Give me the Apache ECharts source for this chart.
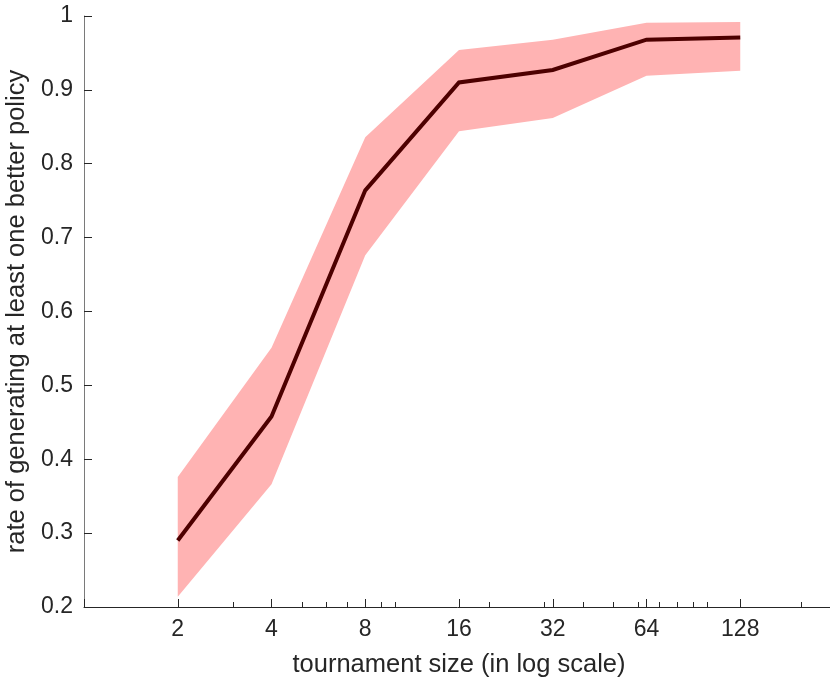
<!DOCTYPE html>
<html>
<head>
<meta charset="utf-8">
<script src="https://cdn.jsdelivr.net/npm/echarts@6/dist/echarts.min.js"></script>
<style>
  html, body { margin: 0; padding: 0; background: #fff; }
  #chart { width: 830px; height: 684px; }
</style>
</head>
<body>
<div id="chart"></div>
<script>
// Tournament sizes (log2-spaced)
const sizes = [2, 4, 8, 16, 32, 64, 128];
// Mean rate of producing at least one better policy
const meanRate = [0.290, 0.458, 0.764, 0.910, 0.927, 0.968, 0.971];
// Upper and lower edges of the shaded spread
const upperRate = [0.376, 0.551, 0.836, 0.954, 0.968, 0.991, 0.992];
const lowerRate = [0.214, 0.366, 0.676, 0.844, 0.862, 0.919, 0.926];
// Minor tick positions on the log axis
const minorTicks = [3, 5, 6, 7, 9, 10, 20, 30, 40, 50, 60, 70, 80, 90, 100, 200];

const FONT = '"Liberation Sans", Arial, Helvetica, sans-serif';
const TEXT = '#262626';

const chart = echarts.init(document.getElementById('chart'), null, { renderer: 'canvas' });

const meanData = sizes.map((s, i) => [s, meanRate[i]]);
// One row per size: x, lower, upper
const bandData = sizes.map((s, i) => [s, lowerRate[i], upperRate[i]]);

chart.setOption({
  animation: false,
  backgroundColor: '#ffffff',
  grid: { left: 84, width: 750, top: 16, height: 591, containLabel: false, outerBoundsMode: 'none' },
  xAxis: {
    type: 'log',
    logBase: 2,
    min: 1,
    max: 256,
    interval: 1,
    name: 'tournament size (in log scale)',
    nameLocation: 'middle',
    nameGap: 45,
    nameTextStyle: { fontFamily: FONT, fontSize: 25.5, color: TEXT },
    axisLine: { lineStyle: { color: TEXT, width: 1 } },
    axisTick: { inside: true, length: 8, lineStyle: { color: TEXT, width: 1 } },
    axisLabel: {
      margin: 11,
      fontFamily: FONT, fontSize: 23, color: TEXT,
      formatter: v => (v <= 1.5 || v >= 200) ? '' : String(Math.round(v))
    },
    splitLine: { show: false },
    minorTick: { show: false }
  },
  yAxis: {
    type: 'value',
    min: 0.2,
    max: 1,
    interval: 0.1,
    name: 'rate of generating at least one better policy',
    nameLocation: 'middle',
    nameGap: 37,
    nameTextStyle: { fontFamily: FONT, fontSize: 25.5, color: TEXT },
    axisLine: { show: true, lineStyle: { color: '#7a7a7a', width: 1 } },
    axisTick: { show: true, inside: true, length: 8, lineStyle: { color: TEXT, width: 1 } },
    axisLabel: {
      margin: 11,
      fontFamily: FONT, fontSize: 23, color: TEXT,
      formatter: v => Math.abs(v - 1) < 1e-9 ? '1' : v.toFixed(1)
    },
    splitLine: { show: false }
  },
  series: [
    {
      name: 'band',
      type: 'custom',
      silent: true,
      data: bandData,
      z: 1,
      // Draws the whole shaded spread as one polygon once all rows are available
      renderItem: (params, api) => {
        if (params.dataIndex !== bandData.length - 1) return null;
        const top = bandData.map(r => api.coord([r[0], r[2]]));
        const bottom = bandData.map(r => api.coord([r[0], r[1]])).reverse();
        return {
          type: 'polygon',
          shape: { points: top.concat(bottom) },
          style: { fill: '#ffb3b3', stroke: null }
        };
      }
    },
    {
      name: 'mean',
      type: 'line',
      data: meanData,
      symbol: 'none',
      lineStyle: { color: '#4d0000', width: 4, join: 'miter' },
      z: 5
    },
    {
      name: 'minor ticks',
      type: 'custom',
      clip: false,
      silent: true,
      data: minorTicks.map(t => [t, 0.2]),
      renderItem: (params, api) => {
        const p = api.coord([api.value(0), api.value(1)]);
        return {
          type: 'line',
          shape: { x1: Math.round(p[0]) + 0.5, y1: p[1], x2: Math.round(p[0]) + 0.5, y2: p[1] - 5 },
          style: { stroke: TEXT, lineWidth: 1 }
        };
      },
      z: 6
    }
  ]
});
</script>
</body>
</html>
